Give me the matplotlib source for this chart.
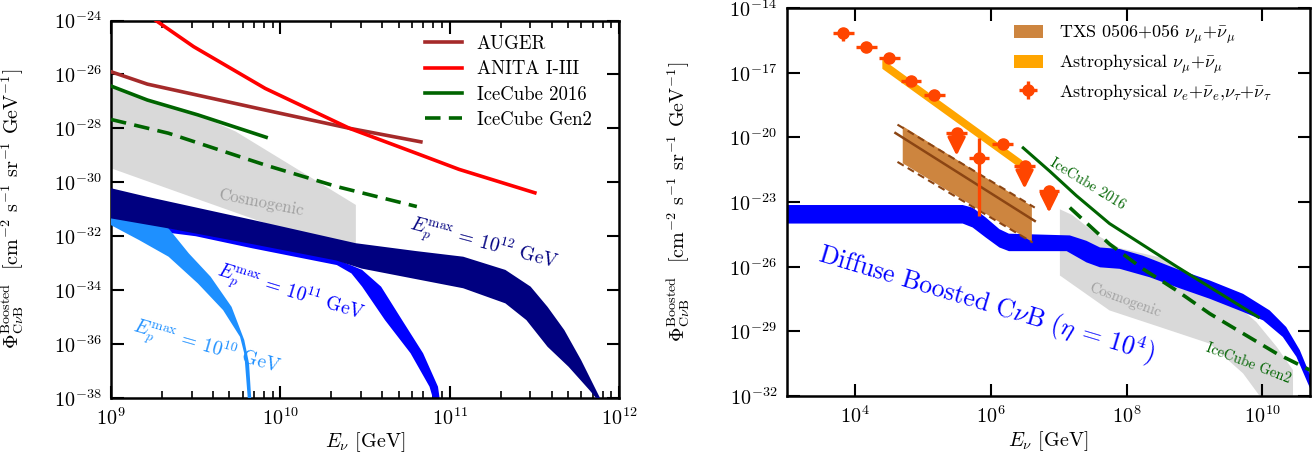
import numpy as np
import matplotlib
matplotlib.use('Agg')
import matplotlib.pyplot as plt
from matplotlib.ticker import LogLocator, NullLocator, FixedLocator
from matplotlib.patches import Patch

plt.rcParams.update({
    'font.family': 'serif',
    'font.serif': ['cmr10'],
    'mathtext.fontset': 'cm',
    'axes.unicode_minus': False,
    'axes.formatter.use_mathtext': True,
})

# ---------------- data (log10 values) ----------------
# Left panel
auger_logE = [9.0, 9.215, 9.91, 10.41, 10.83]
auger_logF = [-25.9, -26.36, -27.32, -28.0, -28.5]
anita_logE = [9.2, 9.265, 9.488, 9.911, 10.409, 10.831, 11.055, 11.503]
anita_logF = [-23.7, -24.0, -24.97, -26.52, -28.0, -28.99, -29.52, -30.39]
ic16_logE = [9.0, 9.215, 9.513, 9.916]
ic16_logF = [-26.43, -26.95, -27.5, -28.33]
gen2_logE = [9.0, 9.339, 9.911, 10.334, 10.806]
gen2_logF = [-27.67, -28.18, -29.36, -30.16, -30.9]

cosmoL_up_logE = [9.0, 9.5, 9.737, 10.334, 10.446, 10.446]
cosmoL_up_logF = [-26.5, -27.45, -28.12, -30.41, -30.84, -32.4]
cosmoL_lo_logE = [9.0, 9.5, 9.95, 10.446]
cosmoL_lo_logF = [-29.48, -30.6, -31.6, -32.4]

# E_p^max = 1e12 (navy)
e12_up_logE = [9.0, 9.215, 9.84, 10.446, 10.8, 11.08, 11.329, 11.478, 11.578, 11.677, 11.776, 11.888, 11.9]
e12_up_logF = [-30.22, -30.54, -31.4, -32.26, -32.55, -32.76, -33.25, -33.87, -34.62, -35.48, -36.59, -38.0, -38.2]
e12_lo_logE = [9.0, 9.34, 9.84, 10.33, 10.48, 11.08, 11.329, 11.453, 11.578, 11.702, 11.826, 11.864, 11.87]
e12_lo_logF = [-31.34, -31.71, -32.3, -32.9, -33.2, -33.93, -34.49, -35.11, -36.10, -36.84, -37.71, -38.0, -38.2]
# E_p^max = 1e11 (blue)
e11_up_logE = [9.0, 9.84, 10.33, 10.483, 10.595, 10.719, 10.843, 10.931, 10.945]
e11_up_logF = [-31.3, -32.25, -32.85, -33.25, -33.87, -35.11, -36.34, -37.58, -38.2]
e11_lo_logE = [9.0, 9.5, 9.836, 10.085, 10.334, 10.42, 10.483, 10.618, 10.769, 10.881, 10.91]
e11_lo_logF = [-31.6, -32.0, -32.45, -32.76, -33.07, -33.38, -33.87, -35.11, -36.34, -37.58, -38.2]
# E_p^max = 1e10 (dodger blue)
e10_up_logE = [9.0, 9.2, 9.34, 9.46, 9.588, 9.712, 9.787, 9.815, 9.83]
e10_up_logF = [-31.2, -31.4, -31.71, -32.64, -33.5, -34.62, -35.85, -36.71, -38.2]
e10_lo_logE = [9.0, 9.165, 9.34, 9.513, 9.662, 9.762, 9.787, 9.81]
e10_lo_logF = [-31.59, -32.14, -32.76, -33.75, -34.74, -35.73, -36.35, -38.2]

# Right panel
boost_up_logE = [3.0, 5.59, 5.735, 5.93, 6.13, 6.27, 7.166, 7.41, 7.61, 7.90, 8.24, 8.735, 9.225, 9.715, 10.107, 10.35, 10.55, 10.75]
boost_up_logF = [-23.14, -23.14, -23.26, -23.72, -24.26, -24.47, -24.55, -24.80, -25.11, -25.18, -25.49, -26.10, -26.64, -27.26, -28.03, -28.80, -29.87, -31.4]
boost_lo_logE = [3.0, 5.59, 5.735, 5.93, 6.13, 6.27, 7.12, 7.41, 7.61, 7.90, 8.34, 8.735, 9.225, 9.715, 10.01, 10.30, 10.50, 10.75]
boost_lo_logF = [-24.0, -24.0, -24.18, -24.65, -25.11, -25.28, -25.28, -25.80, -26.03, -26.10, -26.49, -26.95, -27.49, -28.10, -28.49, -29.26, -30.18, -32.0]

cosmoR_up_logE = [7.02, 7.2, 7.6, 7.9, 8.49, 9.3, 9.91, 10.21, 10.45, 10.45]
cosmoR_up_logF = [-23.34, -23.6, -24.6, -25.14, -25.57, -26.9, -28.57, -29.72, -30.8, -32.5]
cosmoR_lo_logE = [7.02, 7.75, 8.49, 9.225, 9.715, 9.96, 9.96]
cosmoR_lo_logF = [-26.41, -28.03, -28.8, -29.57, -30.95, -32.0, -32.5]

ic16R_logE = [6.48, 6.87, 7.26, 7.75, 8.74, 9.94]
ic16R_logF = [-20.49, -21.57, -22.7, -24.0, -26.0, -28.34]
gen2R_logE = [7.166, 7.75, 8.24, 8.735, 9.225, 9.715, 10.21, 10.70]
gen2R_logF = [-23.26, -24.95, -26.1, -27.1, -28.18, -29.1, -30.03, -30.8]

numu_logE = [4.40, 6.46]
numu_up_logF = [-16.35, -21.05]
numu_lo_logF = [-16.8, -21.48]

txs_logE = [4.70, 6.60]
txs_up_logF = [-19.46, -23.17]
txs_lo_logF = [-21.18, -24.82]
txs_mid_logE = [4.60, 6.65]
txs_mid_logF = [-19.80, -23.88]
txs_dup_logE = [4.63, 6.65]
txs_dup_logF = [-19.41, -23.26]
txs_dlo_logE = [4.63, 6.62]
txs_dlo_logF = [-21.14, -24.88]

nu_logE = [3.83, 4.17, 4.51, 4.83, 5.17, 5.83, 6.18]
nu_logF = [-15.14, -15.80, -16.34, -17.37, -18.03, -20.94, -20.31]
nu_err_up = [0.23, 0.1, 0.1, 0.1, 0.1, 0.92, 0.1]
nu_err_dn = [0.38, 0.12, 0.12, 0.12, 0.12, 2.7, 0.12]
ul_logE = [5.50, 6.50, 6.86]
ul_logF = [-19.78, -21.32, -22.49]
ul_tip_logF = [-20.85, -22.38, -23.49]
bin_half_dex = 0.153

P = lambda a: 10.0 ** np.asarray(a, dtype=float)

fig = plt.figure(figsize=(13.16, 4.58), dpi=100)
axL = fig.add_axes([111/1316, (458-398)/458, 508/1316, 377.5/458])
axR = fig.add_axes([786.7/1316, (458-396)/458, 523.3/1316, 388/458])

def poly(ax, xu, yu, xl, yl, **kw):
    xs = np.concatenate([P(xu), P(xl)[::-1]])
    ys = np.concatenate([P(yu), P(yl)[::-1]])
    ax.fill(xs, ys, lw=0, **kw)

# ---------------- Left panel ----------------
ax = axL
ax.set_xscale('log'); ax.set_yscale('log')
poly(ax, cosmoL_up_logE, cosmoL_up_logF, cosmoL_lo_logE, cosmoL_lo_logF, color='#d9d9d9', zorder=1)
poly(ax, e11_up_logE, e11_up_logF, e11_lo_logE, e11_lo_logF, color='#0000ff', zorder=2)
poly(ax, e10_up_logE, e10_up_logF, e10_lo_logE, e10_lo_logF, color='#1e90ff', zorder=3)
poly(ax, e12_up_logE, e12_up_logF, e12_lo_logE, e12_lo_logF, color='#000080', zorder=4)

ax.plot(P(auger_logE), P(auger_logF), color='#a52a2a', lw=2.6, label='AUGER', zorder=5)
ax.plot(P(anita_logE), P(anita_logF), color='#ff0000', lw=2.6, label='ANITA I-III', zorder=5)
ax.plot(P(ic16_logE), P(ic16_logF), color='#006400', lw=2.6, label='IceCube 2016', zorder=5)
ax.plot(P(gen2_logE), P(gen2_logF), color='#006400', lw=2.6, ls=(0, (4.3, 2.3)), label='IceCube Gen2', zorder=5)

ax.text(10**9.886, 10**-30.77, 'Cosmogenic', color='#a0a0a0', fontsize=12, rotation=-11,
        ha='center', va='center', rotation_mode='anchor', zorder=6)
ax.text(10**11.2, 10**-32.3, r'$E_p^{\rm max}$ = $10^{12}$ GeV', color='#000080', fontsize=14,
        rotation=-15, ha='center', va='center', rotation_mode='anchor', zorder=6)
ax.text(10**10.06, 10**-34.12, r'$E_p^{\rm max}$ = $10^{11}$ GeV', color='#0000ff', fontsize=14,
        rotation=-17, ha='center', va='center', rotation_mode='anchor', zorder=6)
ax.text(10**9.563, 10**-36.16, r'$E_p^{\rm max}$ = $10^{10}$ GeV', color='#1e90ff', fontsize=14,
        rotation=-16, ha='center', va='center', rotation_mode='anchor', zorder=6)

ax.set_xlim(1e9, 1e12)
ax.set_ylim(1e-38, 1e-24)
ax.xaxis.set_major_locator(FixedLocator(P([9, 10, 11, 12])))
ax.xaxis.set_minor_locator(LogLocator(base=10, subs=np.arange(2, 10), numticks=20))
ax.yaxis.set_major_locator(FixedLocator(P([-38, -36, -34, -32, -30, -28, -26, -24])))
ax.yaxis.set_minor_locator(NullLocator())
ax.legend(loc='upper left', bbox_to_anchor=(0.618, 0.962), frameon=False, fontsize=13.5,
          handlelength=2.0, handletextpad=0.75, labelspacing=0.4, borderpad=0, borderaxespad=0)

# ---------------- Right panel ----------------
ax = axR
ax.set_xscale('log'); ax.set_yscale('log')
poly(ax, cosmoR_up_logE, cosmoR_up_logF, cosmoR_lo_logE, cosmoR_lo_logF, color='#d9d9d9', zorder=1)
poly(ax, boost_up_logE, boost_up_logF, boost_lo_logE, boost_lo_logF, color='#0000ff', zorder=2)

ax.plot(P(ic16R_logE), P(ic16R_logF), color='#006400', lw=2.2, zorder=3)
ax.plot(P(gen2R_logE), P(gen2R_logF), color='#006400', lw=2.6, ls=(0, (4.3, 2.3)), zorder=3)

# TXS band
ax.fill_between(P(txs_logE), P(txs_lo_logF), P(txs_up_logF), color='#cd853f', lw=0, zorder=4)
ax.plot(P(txs_mid_logE), P(txs_mid_logF), color='#8b4513', lw=1.8, zorder=5)
ax.plot(P(txs_dup_logE), P(txs_dup_logF), color='#8b4513', lw=1.5, ls=(0, (3.5, 2.2)), zorder=5)
ax.plot(P(txs_dlo_logE), P(txs_dlo_logF), color='#8b4513', lw=1.5, ls=(0, (3.5, 2.2)), zorder=5)

# astrophysical numu band
ax.fill_between(P(numu_logE), P(numu_lo_logF), P(numu_up_logF), color='#ffa500', lw=0, zorder=4)

# astrophysical nue/nutau points
oc = '#ff4500'
x = P(nu_logE); y = P(nu_logF)
xerr = [x - x * 10**-bin_half_dex, x * 10**bin_half_dex - x]
yerr = [y - y * 10**-np.asarray(nu_err_dn), y * 10**np.asarray(nu_err_up) - y]
eb = ax.errorbar(x, y, xerr=xerr, yerr=yerr, fmt='o', color=oc, ms=8, elinewidth=2.4, capsize=0, zorder=6)
xu = P(ul_logE); yu = P(ul_logF)
ax.errorbar(xu, yu, xerr=[xu - xu * 10**-bin_half_dex, xu * 10**bin_half_dex - xu], fmt='o',
            color=oc, ms=8, elinewidth=2.4, capsize=0, zorder=6)
for xi, y0, y1 in zip(xu, yu, P(ul_tip_logF)):
    ax.annotate('', xy=(xi, y1), xytext=(xi, y0),
                arrowprops=dict(arrowstyle='-|>', color=oc, lw=2.4, mutation_scale=27,
                                shrinkA=0, shrinkB=0), zorder=6)

ax.text(10**7.42, 10**-22.18, 'IceCube 2016', color='#006400', fontsize=10.5, rotation=-31.5,
        ha='center', va='center', rotation_mode='anchor', zorder=7)
ax.text(10**9.79, 10**-30.49, 'IceCube Gen2', color='#006400', fontsize=10.5, rotation=-21,
        ha='center', va='center', rotation_mode='anchor', zorder=7)
ax.text(10**7.975, 10**-27.57, 'Cosmogenic', color='#a0a0a0', fontsize=10.5, rotation=-20,
        ha='center', va='center', rotation_mode='anchor', zorder=7)
ax.text(10**5.935, 10**-27.75, r'Diffuse Boosted C$\nu$B ($\eta$ = $10^4$)', color='#0000ff',
        fontsize=18.5, rotation=-16.7, ha='center', va='center', rotation_mode='anchor', zorder=7)

ax.set_xlim(1e3, 10**10.7)
ax.set_ylim(1e-32, 1e-14)
ax.xaxis.set_major_locator(FixedLocator(P([4, 6, 8, 10])))
ax.xaxis.set_minor_locator(NullLocator())
ax.yaxis.set_major_locator(FixedLocator(P([-32, -29, -26, -23, -20, -17, -14])))
ax.yaxis.set_minor_locator(NullLocator())

handles = [Patch(facecolor='#cd853f', edgecolor='none'),
           Patch(facecolor='#ffa500', edgecolor='none'), eb]
labels = [r'TXS 0506+056 $\nu_\mu$+$\bar{\nu}_\mu$', r'Astrophysical $\nu_\mu$+$\bar{\nu}_\mu$',
          r'Astrophysical $\nu_e$+$\bar{\nu}_e$,$\nu_\tau$+$\bar{\nu}_\tau$']
ax.legend(handles, labels, loc='upper left', bbox_to_anchor=(0.434, 0.962), frameon=False,
          fontsize=13, handlelength=1.6, handletextpad=0.9, labelspacing=0.35, borderpad=0,
          borderaxespad=0)

ylab = r'$\Phi^{\rm Boosted}_{\rm C\nu B}$  [cm$^{-2}$ s$^{-1}$ sr$^{-1}$ GeV$^{-1}$]'
for ax, lx in ((axL, -0.167), (axR, -0.181)):
    for s in ax.spines.values():
        s.set_linewidth(1.8)
    ax.tick_params(which='both', direction='in', top=True, right=True, labelsize=14.5)
    ax.tick_params(which='major', length=9, width=1.5, pad=7)
    ax.tick_params(which='minor', length=5, width=1.2)
    ax.set_xlabel(r'$E_\nu$ [GeV]', fontsize=14.5)
    ax.set_ylabel(ylab, fontsize=14.5)
    ax.yaxis.set_label_coords(lx, 0.5)
    ax.xaxis.set_label_coords(0.5, -0.085)
    ax.xaxis.label.set_va('top')

fig.savefig('out.png', dpi=100)
